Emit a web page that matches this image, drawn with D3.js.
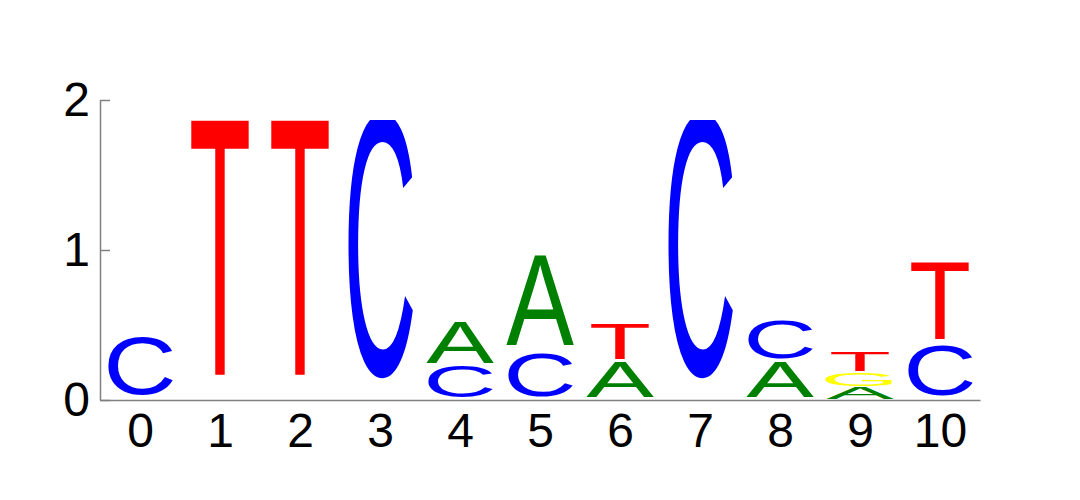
<!DOCTYPE html>
<html>
<head>
<meta charset="utf-8">
<script src="https://cdn.jsdelivr.net/npm/d3@7"></script>
<style>
  body { margin: 0; background: #fff; }
</style>
</head>
<body>
<svg id="canvas"></svg>
<script>
// positions along the motif
const positions = [0, 1, 2, 3, 4, 5, 6, 7, 8, 9, 10];

// information (bits) per letter at each position
const heightsA = [0, 0, 0, 0, 0.3, 0.66, 0.25, 0, 0.253, 0.087, 0];
const heightsC = [0.413, 0, 0, 1.89, 0.22, 0.307, 0, 1.89, 0.267, 0, 0.353];
const heightsG = [0, 0, 0, 0, 0, 0, 0, 0, 0, 0.093, 0];
const heightsT = [0, 1.867, 1.867, 0, 0, 0, 0.257, 0, 0, 0.142, 0.562];

const yTicks = [0, 1, 2];

const letterColors = { A: "#008000", C: "#0000ff", G: "#ffff00", T: "#ff0000" };

const width = 1080;
const height = 500;
const clipTop = 1.867;
const gapFrac = 0.09;

const canvas = d3.select("#canvas");
canvas.attr("width", width).attr("height", height);

const xScale = d3.scaleLinear().domain([-0.5, 10.5]).range([100, 980]);
const yScale = d3.scaleLinear().domain([0, 2]).range([400, 100]);

// glyph metrics from a canvas so letters can be stretched to their box
const ctx = document.createElement("canvas").getContext("2d");
ctx.font = "100px 'Liberation Sans'";
const capHeight = ctx.measureText("T").actualBoundingBoxAscent;
const mA = ctx.measureText("A");
const inkA = mA.actualBoundingBoxLeft + mA.actualBoundingBoxRight;
const sx = 68 / inkA;

// build stacks, smallest letter at the bottom
const stacks = positions.map((p, i) => {
  const col = [
    { letter: "A", h: heightsA[i] },
    { letter: "C", h: heightsC[i] },
    { letter: "G", h: heightsG[i] },
    { letter: "T", h: heightsT[i] },
  ]
    .filter((d) => d.h > 0)
    .sort((a, b) => a.h - b.h);
  let base = 0;
  col.forEach((d) => {
    d.pos = p;
    d.y0 = base;
    d.y1 = base + d.h;
    base = d.y1;
  });
  return col;
});

canvas
  .append("defs")
  .append("clipPath")
  .attr("id", "plot-clip")
  .append("rect")
  .attr("x", xScale(-0.5))
  .attr("y", yScale(clipTop))
  .attr("width", xScale(10.5) - xScale(-0.5))
  .attr("height", yScale(0) - yScale(clipTop));

canvas
  .append("g")
  .attr("clip-path", "url(#plot-clip)")
  .selectAll("text")
  .data(stacks.flat())
  .enter()
  .append("text")
  .attr("class", "letter")
  .attr("font-family", "'Liberation Sans', Arial, sans-serif")
  .attr("font-size", 100)
  .attr("text-anchor", "middle")
  .attr("fill", (d) => letterColors[d.letter])
  .attr("transform", (d) => {
    const bottom = yScale(d.y0);
    const boxH = bottom - yScale(d.y1);
    const baseline = bottom - gapFrac * boxH;
    const sy = ((1 - gapFrac) * boxH) / capHeight;
    return `translate(${xScale(d.pos)},${baseline}) scale(${sx},${sy})`;
  })
  .text((d) => d.letter);

const yAxis = d3
  .axisLeft(yScale)
  .tickValues(yTicks)
  .tickFormat(d3.format("d"))
  .tickSize(-10)
  .tickSizeOuter(0)
  .tickPadding(10);
const xAxis = d3
  .axisBottom(xScale)
  .tickValues(positions)
  .tickFormat(d3.format("d"))
  .tickSize(0)
  .tickSizeOuter(0)
  .tickPadding(13);

const styleAxis = (g) => {
  g.attr("font-size", 48).attr("font-family", "'Liberation Sans', Arial, sans-serif");
  g.selectAll(".domain, .tick line").attr("stroke", "#808080").attr("stroke-width", 1.5);
  g.selectAll("text").attr("fill", "#000");
};

canvas
  .append("g")
  .attr("id", "x-axis")
  .attr("transform", `translate(0, ${yScale(0)})`)
  .call(xAxis)
  .call(styleAxis);

canvas
  .append("g")
  .attr("id", "y-axis")
  .attr("transform", `translate(${xScale(-0.5)}, 0)`)
  .call(yAxis)
  .call(styleAxis);
</script>
</body>
</html>
